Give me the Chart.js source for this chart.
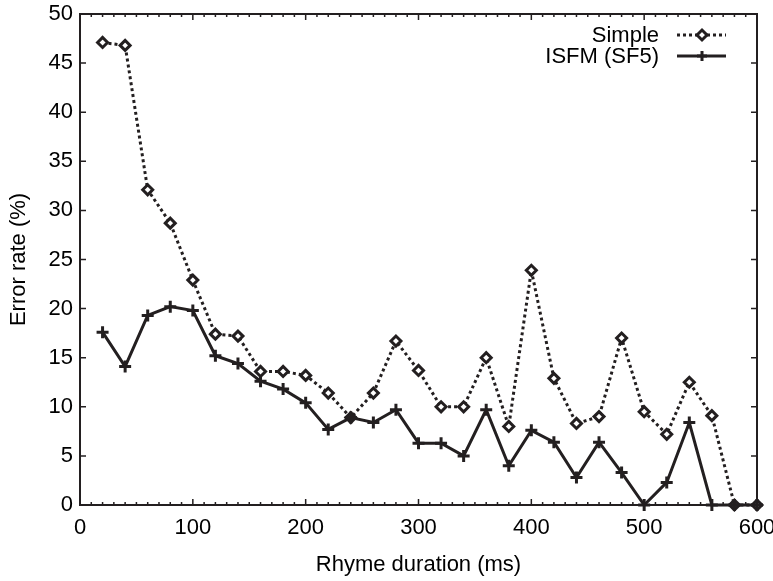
<!DOCTYPE html>
<html>
<head>
<meta charset="utf-8">
<script src="https://cdn.jsdelivr.net/npm/chart.js@4.4.1/dist/chart.umd.min.js"></script>
<style>
  html, body { margin: 0; padding: 0; background: #fff; }
  #wrap { width: 773px; height: 581px; position: relative; }
</style>
</head>
<body>
<div id="wrap"><canvas id="errChart"></canvas></div>
<script>
// rhyme duration (ms)
const durations = [20, 40, 60, 80, 100, 120, 140, 160, 180, 200, 220, 240, 260, 280, 300,
  320, 340, 360, 380, 400, 420, 440, 460, 480, 500, 520, 540, 560, 580, 600];
// error rate (%)
const simpleErr = [47.1, 46.8, 32.1, 28.7, 22.9, 17.4, 17.2, 13.6, 13.6, 13.2, 11.4, 8.9, 11.4, 16.7, 13.7,
  10.0, 10.0, 15.0, 8.0, 23.9, 12.9, 8.3, 9.0, 17.0, 9.5, 7.2, 12.5, 9.1, 0, 0];
const isfmErr = [17.6, 14.1, 19.3, 20.2, 19.8, 15.2, 14.4, 12.6, 11.8, 10.4, 7.7, 8.9, 8.4, 9.7, 6.3,
  6.3, 5.0, 9.7, 4.0, 7.6, 6.4, 2.8, 6.4, 3.3, 0, 2.3, 8.4, 0, 0, 0];
const seriesNames = ['Simple', 'ISFM (SF5)'];
const xTicks = [0, 100, 200, 300, 400, 500, 600];
const yTicks = [0, 5, 10, 15, 20, 25, 30, 35, 40, 45, 50];

const ink = '#231f20';
const font = 'Liberation Sans, Arial, sans-serif';

const toPoints = (vals) => vals.map((v, i) => ({ x: durations[i], y: v }));

// gnuplot-style frame with inward ticks + legend
const framePlugin = {
  id: 'frame',
  afterDraw(chart) {
    const { ctx, scales } = chart;
    const xs = scales.x, ys = scales.y;
    const L = xs.getPixelForValue(0), R = xs.getPixelForValue(600);
    const T = ys.getPixelForValue(50), B = ys.getPixelForValue(0);
    ctx.save();
    ctx.strokeStyle = ink;
    ctx.lineWidth = 2;
    ctx.strokeRect(L, T, R - L, B - T);
    ctx.lineWidth = 1.5;
    ctx.beginPath();
    for (let v = 0; v <= 600; v += 10) {
      const px = xs.getPixelForValue(v);
      const len = v % 100 === 0 ? 6 : 3;
      ctx.moveTo(px, B); ctx.lineTo(px, B - len);
      ctx.moveTo(px, T); ctx.lineTo(px, T + len);
    }
    yTicks.forEach(v => {
      const py = ys.getPixelForValue(v);
      ctx.moveTo(L, py); ctx.lineTo(L + 6, py);
      ctx.moveTo(R, py); ctx.lineTo(R - 6, py);
    });
    ctx.stroke();

    // legend
    const rows = [
      { label: seriesNames[0], y: 35, dash: [3, 3], marker: 'diamond' },
      { label: seriesNames[1], y: 56, dash: [], marker: 'cross' }
    ];
    ctx.font = '22px ' + font;
    ctx.fillStyle = '#000';
    ctx.textAlign = 'right';
    ctx.textBaseline = 'middle';
    rows.forEach(r => {
      ctx.fillText(r.label, 659, r.y + 1);
      ctx.setLineDash(r.dash);
      ctx.lineWidth = 3;
      ctx.beginPath();
      ctx.moveTo(677, r.y); ctx.lineTo(726, r.y);
      ctx.stroke();
      ctx.setLineDash([]);
      const cx = 702;
      if (r.marker === 'diamond') {
        ctx.fillStyle = '#fff';
        ctx.beginPath();
        ctx.moveTo(cx - 5, r.y); ctx.lineTo(cx, r.y - 5);
        ctx.lineTo(cx + 5, r.y); ctx.lineTo(cx, r.y + 5);
        ctx.closePath();
        ctx.fill(); ctx.stroke();
        ctx.fillStyle = '#000';
      } else {
        ctx.beginPath();
        ctx.moveTo(cx - 5, r.y); ctx.lineTo(cx + 5, r.y);
        ctx.moveTo(cx, r.y - 5); ctx.lineTo(cx, r.y + 5);
        ctx.stroke();
      }
    });
    ctx.restore();
  }
};

new Chart(document.getElementById('errChart'), {
  type: 'line',
  data: {
    datasets: [
      {
        label: seriesNames[0],
        data: toPoints(simpleErr),
        borderColor: ink,
        borderWidth: 3,
        borderDash: [3, 3],
        borderCapStyle: 'butt',
        pointStyle: 'rectRot',
        pointRadius: 5,
        pointBorderWidth: 3,
        pointBackgroundColor: '#fff',
        pointBorderColor: ink,
        tension: 0,
        clip: false,
        order: 2
      },
      {
        label: seriesNames[1],
        data: toPoints(isfmErr),
        borderColor: ink,
        borderWidth: 3,
        pointStyle: 'cross',
        pointRadius: 6,
        pointBorderWidth: 3,
        pointBorderColor: ink,
        tension: 0,
        clip: false,
        order: 1
      }
    ]
  },
  options: {
    responsive: true,
    maintainAspectRatio: false,
    animation: false,
    layout: { padding: { top: 14, right: 16, left: 0, bottom: 0 } },
    plugins: { legend: { display: false }, tooltip: { enabled: false } },
    scales: {
      x: {
        type: 'linear',
        min: 0,
        max: 600,
        afterBuildTicks: (s) => { s.ticks = xTicks.map(v => ({ value: v })); },
        afterFit: (s) => { s.height = 76; s.paddingLeft = 0; s.paddingRight = 16; },
        grid: { display: false, drawTicks: false },
        border: { display: false },
        ticks: { color: '#000', padding: 10, maxRotation: 0, font: { family: font, size: 22 } },
        title: {
          display: true,
          text: 'Rhyme duration (ms)',
          color: '#000',
          padding: { top: 0, bottom: 3 },
          font: { family: font, size: 22 }
        }
      },
      y: {
        min: 0,
        max: 50,
        afterBuildTicks: (s) => { s.ticks = yTicks.map(v => ({ value: v })); },
        afterFit: (s) => { s.width = 80; s.paddingTop = 0; s.paddingBottom = 0; },
        grid: { display: false, drawTicks: false },
        border: { display: false },
        ticks: { color: '#000', padding: 7, font: { family: font, size: 22 } },
        title: {
          display: true,
          text: 'Error rate (%)',
          color: '#000',
          padding: { top: 6, bottom: 0 },
          font: { family: font, size: 22 }
        }
      }
    }
  },
  plugins: [framePlugin]
});
</script>
</body>
</html>
